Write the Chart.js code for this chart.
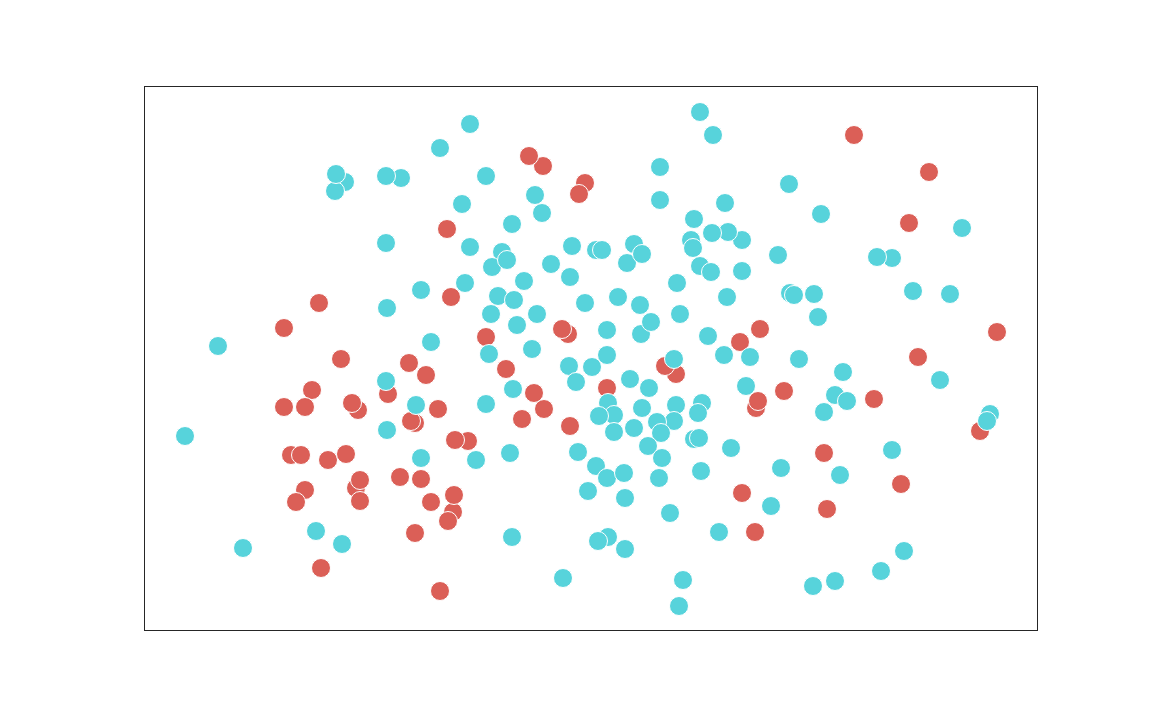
<!DOCTYPE html>
<html>
<head>
<meta charset="utf-8">
<script src="https://cdn.jsdelivr.net/npm/chart.js@4.4.1/dist/chart.umd.min.js"></script>
<style>
  html, body { margin: 0; padding: 0; background: #ffffff; }
  #wrap { width: 1152px; height: 720px; }
</style>
</head>
<body>
<div id="wrap"><canvas id="scatterChart" width="1152" height="720"></canvas></div>
<script>
// Values (x grows right, y grows up, frame spans about 0..893 x 0..544)
const redX = [398, 384, 440, 434, 302, 306, 174, 139, 196, 264, 281, 167, 243, 139, 160, 213, 207, 293, 270, 266,
  146, 156, 183, 201, 255, 276, 160, 151, 211, 215, 215, 286, 308, 309, 303, 270, 176, 295, 323, 310,
  341, 423, 417, 361, 389, 399, 377, 425, 462, 531, 520, 595, 615, 709, 784, 764, 852, 773, 639, 611,
  613, 729, 835, 679, 756, 597, 682, 610];
const redY = [465, 475, 448, 437, 402, 334, 328, 303, 272, 268, 256, 241, 237, 224, 224, 221, 228, 222, 208, 210,
  176, 176, 171, 177, 154, 152, 141, 129, 143, 130, 151, 129, 119, 136, 110, 98, 63, 40, 190, 191,
  294, 297, 302, 262, 238, 222, 212, 205, 243, 257, 265, 289, 302, 496, 459, 408, 299, 274, 240, 223,
  230, 232, 200, 178, 147, 138, 122, 99];

const cyanX = [295, 200, 190, 191, 256, 241, 241, 276, 242, 73, 286, 325, 555, 568, 341, 515, 397, 390, 317, 515,
  580, 367, 549, 546, 548, 597, 583, 567, 325, 357, 347, 362, 427, 451, 457, 489, 482, 497, 406, 425,
  555, 566, 597, 532, 320, 379, 353, 369, 440, 473, 495, 582, 346, 392, 535, 496, 506, 372, 462, 563,
  344, 387, 462, 579, 529, 644, 676, 817, 633, 747, 732, 645, 649, 669, 768, 805, 673, 605, 654, 241,
  271, 40, 242, 276, 171, 197, 98, 424, 447, 368, 341, 431, 485, 504, 463, 469, 454, 497, 557, 553,
  531, 529, 512, 516, 489, 469, 503, 517, 549, 554, 586, 601, 331, 365, 433, 451, 462, 479, 443, 480,
  514, 556, 525, 574, 367, 463, 453, 480, 418, 538, 534, 698, 795, 690, 702, 679, 845, 842, 747, 636,
  695, 626, 759, 736, 668, 690];
const cyanY = [483, 449, 440, 457, 453, 455, 388, 341, 323, 285, 289, 507, 519, 496, 455, 464, 418, 436, 427, 431,
  428, 407, 412, 391, 383, 391, 399, 398, 384, 379, 364, 371, 385, 381, 381, 387, 368, 377, 367, 354,
  365, 359, 360, 348, 348, 350, 335, 331, 328, 334, 326, 334, 317, 317, 317, 297, 309, 306, 301, 295,
  277, 282, 276, 276, 272, 447, 417, 403, 376, 373, 374, 338, 336, 337, 340, 337, 314, 274, 272, 250,
  226, 195, 201, 173, 100, 87, 83, 265, 264, 242, 227, 249, 252, 243, 228, 216, 215, 223, 228, 218,
  226, 210, 209, 198, 203, 199, 185, 173, 192, 193, 183, 245, 171, 178, 179, 165, 153, 158, 140, 133,
  153, 160, 118, 99, 94, 94, 90, 82, 53, 51, 25, 259, 251, 236, 230, 219, 217, 210, 181, 163,
  156, 125, 80, 60, 45, 50];

const RED = "#db5f57";
const CYAN = "#57d3db";

const toPoints = (xs, ys) => xs.map((x, i) => ({ x: x, y: ys[i] }));

// Box around the plot area (all four sides)
const framePlugin = {
  id: "frame",
  afterDraw(chart) {
    const { ctx, chartArea } = chart;
    ctx.save();
    ctx.strokeStyle = "#262626";
    ctx.lineWidth = 1;
    ctx.strokeRect(
      Math.round(chartArea.left) + 0.5,
      Math.round(chartArea.top) + 0.5,
      Math.round(chartArea.right - chartArea.left),
      Math.round(chartArea.bottom - chartArea.top)
    );
    ctx.restore();
  },
};

const ctx = document.getElementById("scatterChart").getContext("2d");
new Chart(ctx, {
  type: "scatter",
  data: {
    datasets: [
      {
        label: "cyan",
        data: toPoints(cyanX, cyanY),
        backgroundColor: CYAN,
        borderColor: "#ffffff",
        borderWidth: 1,
        pointRadius: 9.5,
        pointHoverRadius: 9.5,
      },
      {
        label: "red",
        data: toPoints(redX, redY),
        backgroundColor: RED,
        borderColor: "#ffffff",
        borderWidth: 1,
        pointRadius: 9.5,
        pointHoverRadius: 9.5,
      },
    ],
  },
  options: {
    responsive: false,
    animation: false,
    layout: {
      autoPadding: false,
      padding: { left: 144, right: 115, top: 86, bottom: 90 },
    },
    plugins: {
      legend: { display: false },
      tooltip: { enabled: false },
    },
    scales: {
      x: { type: "linear", display: false, min: -1, max: 892 },
      y: { type: "linear", display: false, min: 1, max: 545 },
    },
  },
  plugins: [framePlugin],
});
</script>
</body>
</html>
